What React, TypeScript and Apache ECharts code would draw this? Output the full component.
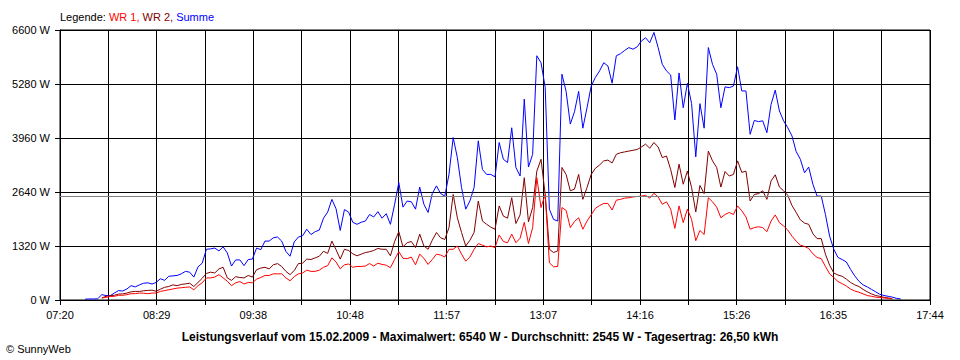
import React, { useEffect, useRef } from "react";
import * as echarts from "echarts";

// Sampling grid of the readings
const FIRST_SAMPLE = "07:38";
const STEP_MINUTES = 3;
const AXIS_START = "07:20";
const AXIS_END = "17:44";

// Tick labels of the time axis (every second vertical grid line)
const xTickLabels = ["07:20", "08:29", "09:38", "10:48", "11:57", "13:07", "14:16", "15:26", "16:35", "17:44"];
const yMax = 6600;
const yStep = 1320;
const average = 2545;

// Summe (W)
const summe = [
  20, 25, 25, 30, 130, 110, 105, 170, 230, 220,
  270, 350, 320, 370, 410, 420, 390, 430, 520, 480,
  580, 590, 600, 640, 700, 680, 560, 810, 900, 1240,
  1250, 1270, 1200, 1300, 1150, 830, 980, 980, 840, 990,
  1000, 1270, 1230, 1440, 1440, 1520, 1540, 1440, 1190, 1070,
  1420, 1540, 1570, 1730, 1600, 1670, 1710, 2000, 2150, 2460,
  2230, 1700, 2210, 2150, 1900, 1850, 1900, 1930, 2090, 2030,
  2160, 2000, 2110, 1850, 2340, 2870, 2270, 2420, 2400, 2220,
  2760, 2340, 2140, 2600, 2790, 2600, 2540, 3070, 3970, 3480,
  2750, 2220, 2420, 2750, 3890, 3190, 3070, 3070, 3010, 3850,
  3440, 3360, 4210, 3240, 3030, 4910, 3250, 3560, 5970, 5800,
  5200, 2220, 1970, 1930, 5520, 5100, 4300, 4600, 5100, 4200,
  4700, 5230, 5440, 5600, 5800, 5720, 5300, 5970, 6020, 6100,
  6170, 6130, 6190, 6330, 6410, 6290, 6540, 6170, 5760, 5600,
  5500, 4400, 5550, 4700, 5300, 4800, 3500, 4800, 4200, 6170,
  5760, 5520, 4700, 5210, 5190, 5230, 5700, 5110, 5110, 4050,
  4390, 4360, 4380, 4090, 4780, 5130, 4620, 4380, 4210, 4010,
  3630, 3440, 3110, 3250, 2830, 2540, 2540, 2090, 1560, 1240,
  1040, 990, 930, 750, 590, 460, 370, 320, 260, 200,
  140, 110, 90, 70, 40, 25,
];

// WR 2 (W)
const wr2 = [
  null, null, null, null, 50, 90, 105, 115, 145, 150,
  170, 200, 210, 210, 225, 235, 240, 215, 265, 310,
  330, 370, 350, 380, 395, 410, 330, 430, 530, 650,
  680, 660, 760, 800, 540, 480, 570, 550, 540, 600,
  560, 740, 780, 800, 760, 860, 890, 820, 700, 620,
  720, 890, 900, 1000, 990, 1030, 1070, 1190, 1140, 1440,
  1230, 1000, 1240, 1210, 1130, 1080, 1120, 1160, 1180, 1210,
  1260, 1240, 1240, 1080, 1430, 1670, 1300, 1400, 1430, 1280,
  1610, 1320, 1240, 1460, 1650, 1520, 1480, 1770, 2580, 2010,
  1650, 1320, 1460, 1650, 2420, 1930, 1850, 1780, 1730, 2300,
  2050, 2000, 2500, 1870, 2080, 2990, 1910, 2260, 3150, 3440,
  2580, 1240, 1160, 1200, 3240, 3070, 2670, 2710, 3070, 2460,
  2750, 3070, 3220, 3300, 3400, 3420, 3350, 3560, 3600, 3620,
  3640, 3660, 3680, 3740, 3810, 3710, 3850, 3740, 3480, 3520,
  3190, 2750, 3320, 2830, 3150, 2750, 2150, 2800, 2600, 3640,
  3400, 3240, 2760, 3140, 3030, 3070, 3400, 3120, 3150, 2420,
  2580, 2600, 2670, 2460, 2910, 3060, 2760, 2670, 2560, 2310,
  2140, 1960, 1880, 1850, 1620, 1500, 1500, 1120, 850, 660,
  610, 580, 510, 430, 370, 330, 260, 200, 150, 110,
  90, 65, 50, 30, null, null,
];

// WR 1 (W)
const wr1 = [
  null, null, null, null, 50, 65, 85, 90, 115, 115,
  130, 155, 155, 170, 165, 155, 170, 170, 210, 230,
  250, 270, 290, 300, 310, 320, 250, 350, 420, 540,
  540, 560, 620, 540, 460, 350, 420, 450, 390, 430,
  420, 510, 550, 600, 600, 640, 640, 640, 540, 470,
  570, 640, 660, 730, 700, 700, 730, 800, 840, 1030,
  930, 760, 860, 880, 800, 820, 820, 830, 890, 830,
  900, 870, 850, 790, 990, 1180, 1020, 1010, 1050, 860,
  1120, 1020, 870, 990, 1120, 1100, 1050, 1240, 1240, 1320,
  1120, 950, 1050, 1240, 1380, 1340, 1300, 1320, 1280, 1590,
  1430, 1400, 1610, 1400, 1510, 1900, 1380, 1770, 2990, 2260,
  2580, 910, 810, 820, 2260, 2190, 1770, 1920, 2010, 1730,
  1930, 2080, 2240, 2310, 2360, 2360, 2200, 2440, 2460, 2490,
  2500, 2520, 2530, 2540, 2560, 2490, 2610, 2520, 2340, 2400,
  2220, 1750, 2300, 1890, 2220, 1970, 1450, 1700, 1600, 2500,
  2400, 2270, 2010, 2090, 2140, 2090, 2300, 2180, 2030, 1730,
  1770, 1790, 1770, 1670, 1930, 2080, 1890, 1810, 1710, 1560,
  1440, 1340, 1310, 1260, 1130, 1040, 1010, 820, 640, 550,
  450, 400, 340, 270, 220, 190, 150, 110, 90, 70,
  60, 50, 40, 30, null, null,
];

const FONT = "'Liberation Sans', Arial, sans-serif";

function toMin(hhmm: string): number {
  const [h, m] = hhmm.split(":").map(Number);
  return h * 60 + m;
}

export default function App() {
  const ref = useRef<HTMLDivElement>(null);

  useEffect(() => {
    if (!ref.current) return;
    const chart = echarts.init(ref.current, undefined, { renderer: "svg" });

    // x axis in seconds since the axis start; 18 grid intervals
    const axisStart = toMin(AXIS_START);
    const spanSec = (toMin(AXIS_END) - axisStart) * 60;
    const gridStep = spanSec / 18;
    const first = (toMin(FIRST_SAMPLE) - axisStart) * 60;
    const pairs = (arr: (number | null)[]) =>
      arr.map((v, i) => [first + i * STEP_MINUTES * 60, v]);

    const lineSeries = (name: string, arr: (number | null)[], color: string, extra: any = {}) => ({
      name,
      type: "line",
      data: pairs(arr),
      showSymbol: false,
      symbol: "none",
      connectNulls: false,
      lineStyle: { color, width: 1 },
      itemStyle: { color },
      emphasis: { disabled: true },
      silent: true,
      ...extra,
    });

    chart.setOption({
      animation: false,
      backgroundColor: "#ffffff",
      textStyle: { fontFamily: FONT },
      grid: {
        left: 60,
        top: 30,
        width: 870,
        height: 270,
        show: true,
        borderColor: "#000000",
        borderWidth: 1,
        containLabel: false,
      },
      xAxis: {
        type: "value",
        min: 0,
        max: spanSec,
        interval: gridStep,
        axisLine: { show: true, lineStyle: { color: "#000000", width: 1 } },
        axisTick: { show: true, inside: false, length: 5, lineStyle: { color: "#000000" } },
        splitLine: { show: true, lineStyle: { color: "#000000", width: 1 } },
        axisLabel: {
          show: true,
          margin: 9,
          color: "#000000",
          fontSize: 11,
          fontFamily: FONT,
          showMinLabel: true,
          showMaxLabel: true,
          formatter: (v: number) => {
            const k = Math.round(v / gridStep);
            return k % 2 === 0 ? xTickLabels[k / 2] ?? "" : "";
          },
        },
      },
      yAxis: {
        type: "value",
        min: 0,
        max: yMax,
        interval: yStep,
        axisLine: { show: true, lineStyle: { color: "#000000", width: 1 } },
        axisTick: { show: true, inside: false, length: 5, lineStyle: { color: "#000000" } },
        splitLine: { show: true, lineStyle: { color: "#000000", width: 1 } },
        axisLabel: {
          margin: 10,
          color: "#000000",
          fontSize: 11,
          fontFamily: FONT,
          formatter: (v: number) => `${Math.round(v)} W`,
        },
      },
      graphic: [
        {
          type: "text",
          x: 60,
          y: 17,
          style: {
            text: "{k|Legende:} {a|WR 1,} {b|WR 2,} {c|Summe}",
            verticalAlign: "middle",
            font: `11px ${FONT}`,
            rich: {
              k: { fill: "#000000", fontSize: 11, fontFamily: FONT },
              a: { fill: "#ff0000", fontSize: 11, fontFamily: FONT },
              b: { fill: "#800000", fontSize: 11, fontFamily: FONT },
              c: { fill: "#0000ff", fontSize: 11, fontFamily: FONT },
            },
          },
        },
        {
          type: "text",
          x: 480,
          y: 337,
          style: {
            text: "Leistungsverlauf vom 15.02.2009 - Maximalwert: 6540 W - Durchschnitt: 2545 W - Tagesertrag: 26,50 kWh",
            align: "center",
            verticalAlign: "middle",
            fill: "#000000",
            font: `bold 12px ${FONT}`,
          },
        },
        {
          type: "text",
          x: 6,
          y: 349,
          style: {
            text: "© SunnyWeb",
            verticalAlign: "middle",
            fill: "#000000",
            font: `11px ${FONT}`,
          },
        },
      ],
      series: [
        lineSeries("Summe", summe, "#0000ff", {
          markLine: {
            silent: true,
            symbol: "none",
            label: { show: false },
            lineStyle: { color: "#808080", type: "solid", width: 1 },
            data: [{ yAxis: average }],
          },
        }),
        lineSeries("WR 2", wr2, "#800000"),
        lineSeries("WR 1", wr1, "#ff0000"),
      ],
    });

    return () => chart.dispose();
  }, []);

  return (
    <div
      ref={ref}
      style={{ position: "absolute", left: 0, top: 0, width: 960, height: 360, background: "#fff" }}
    />
  );
}
